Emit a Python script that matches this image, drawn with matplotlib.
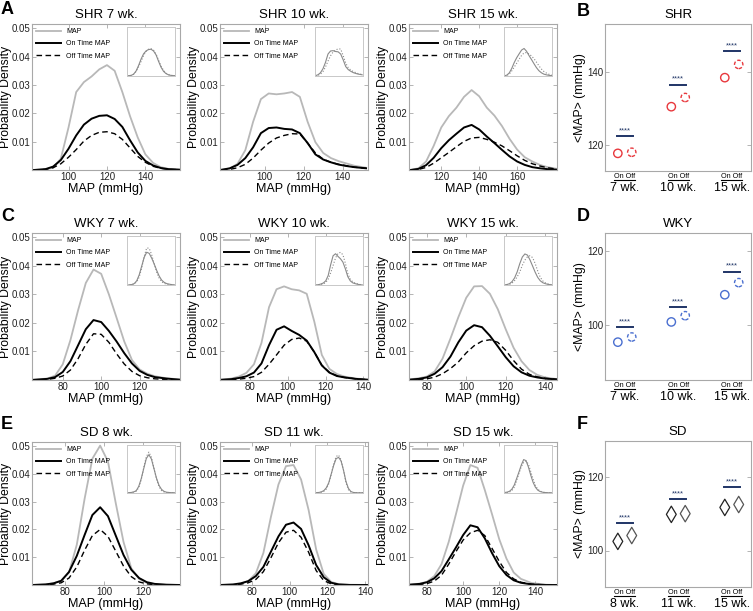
import matplotlib
matplotlib.use('Agg')
import matplotlib.pyplot as plt
import numpy as np
from matplotlib import transforms

plt.rcParams['font.family'] = ['Liberation Sans', 'DejaVu Sans']

# --- density curves (MAP in mmHg, probability density) ---
# SHR 7 wk.
shr7_x = [82, 88, 92, 96, 100, 104, 108, 112, 116, 120, 124, 128, 132, 136, 140, 144, 148, 152, 158]
shr7_map = [0, 0.0002, 0.0008, 0.004, 0.015, 0.0275, 0.031, 0.033, 0.0355, 0.037, 0.035, 0.0275,
            0.019, 0.0115, 0.0055, 0.0025, 0.001, 0.0004, 0.0001]
shr7_on = [0, 0.0003, 0.0012, 0.0035, 0.0075, 0.0122, 0.016, 0.0181, 0.0191, 0.0193, 0.018, 0.0152,
           0.0105, 0.0062, 0.0032, 0.0016, 0.0007, 0.0003, 0.0001]
shr7_off = [0, 0.0002, 0.0008, 0.0022, 0.0045, 0.0072, 0.0102, 0.0122, 0.0133, 0.0135, 0.0128, 0.0108,
            0.0078, 0.0048, 0.0027, 0.0013, 0.0006, 0.0002, 0.0001]

# SHR 10 wk.
shr10_x = [78, 82, 86, 90, 94, 98, 102, 106, 110, 114, 118, 122, 126, 130, 134, 138, 142, 146, 152]
shr10_map = [0.0001, 0.0005, 0.0022, 0.007, 0.017, 0.025, 0.027, 0.0267, 0.027, 0.0275, 0.0258, 0.017,
             0.0098, 0.006, 0.0042, 0.0031, 0.0023, 0.0015, 0.0008]
shr10_on = [0.0001, 0.0006, 0.0018, 0.0042, 0.008, 0.013, 0.0148, 0.015, 0.0145, 0.0143, 0.013, 0.0095,
            0.0055, 0.0037, 0.0027, 0.0019, 0.0014, 0.001, 0.0006]
shr10_off = [0, 0.0002, 0.0008, 0.002, 0.0042, 0.007, 0.0095, 0.0113, 0.0122, 0.0128, 0.0127, 0.0095,
             0.006, 0.0038, 0.0027, 0.002, 0.0015, 0.001, 0.0006]

# SHR 15 wk.
shr15_x = [104, 108, 112, 116, 120, 124, 128, 132, 136, 140, 144, 148, 152, 156, 160, 164, 168, 172, 176, 181]
shr15_map = [0.0001, 0.0006, 0.003, 0.0085, 0.015, 0.019, 0.022, 0.0258, 0.0282, 0.026, 0.022, 0.0192,
             0.0155, 0.011, 0.0072, 0.0045, 0.003, 0.0018, 0.001, 0.0004]
shr15_on = [0, 0.0004, 0.0017, 0.0043, 0.0077, 0.0105, 0.0128, 0.015, 0.0159, 0.0143, 0.0118, 0.0095,
            0.0071, 0.0048, 0.003, 0.0018, 0.001, 0.0006, 0.0003, 0.0001]
shr15_off = [0, 0.0002, 0.0009, 0.0024, 0.0043, 0.0062, 0.0082, 0.0101, 0.0113, 0.0115, 0.0108, 0.0098,
             0.0085, 0.0068, 0.005, 0.0034, 0.0022, 0.0014, 0.0008, 0.0003]

# WKY 7 wk.
wky7_x = [64, 68, 72, 76, 80, 84, 88, 92, 96, 100, 104, 108, 112, 116, 120, 124, 128, 134, 141]
wky7_map = [0.0001, 0.0003, 0.0005, 0.0015, 0.0055, 0.014, 0.0245, 0.034, 0.0387, 0.0372, 0.03, 0.0218,
            0.0135, 0.007, 0.0037, 0.0022, 0.0013, 0.0006, 0.0002]
wky7_on = [0, 0.0002, 0.0004, 0.001, 0.0028, 0.0066, 0.0122, 0.0178, 0.021, 0.0203, 0.0172, 0.0135,
           0.0094, 0.0058, 0.0032, 0.0018, 0.001, 0.0005, 0.0001]
wky7_off = [0, 0.0001, 0.0002, 0.0006, 0.0014, 0.0035, 0.0075, 0.0125, 0.0162, 0.016, 0.0132, 0.0092,
            0.0056, 0.003, 0.0015, 0.0008, 0.0004, 0.0002, 0]

# WKY 10 wk.
wky10_x = [65, 70, 74, 78, 82, 86, 90, 94, 98, 102, 106, 110, 114, 118, 122, 126, 130, 136, 142]
wky10_map = [0.0001, 0.0005, 0.0012, 0.0025, 0.0055, 0.013, 0.0255, 0.0318, 0.0328, 0.0318, 0.0314, 0.0302,
             0.0205, 0.0088, 0.0039, 0.0021, 0.0012, 0.0005, 0.0002]
wky10_on = [0.0001, 0.0003, 0.0007, 0.0013, 0.0026, 0.0058, 0.0122, 0.0176, 0.0188, 0.0172, 0.0158, 0.0138,
            0.0098, 0.0051, 0.0026, 0.0014, 0.0009, 0.0004, 0.0001]
wky10_off = [0, 0.0001, 0.0003, 0.0006, 0.0012, 0.0027, 0.0055, 0.0088, 0.0122, 0.0142, 0.0147, 0.0136,
             0.0098, 0.0052, 0.0027, 0.0015, 0.0009, 0.0004, 0.0001]

# WKY 15 wk.
wky15_x = [71, 76, 80, 84, 88, 92, 96, 100, 104, 108, 112, 116, 120, 124, 128, 132, 136, 140, 146]
wky15_map = [0.0002, 0.0006, 0.0012, 0.003, 0.0075, 0.0145, 0.022, 0.0288, 0.0328, 0.0329, 0.0302, 0.0248,
             0.0178, 0.0113, 0.0066, 0.0035, 0.0018, 0.0009, 0.0003]
wky15_on = [0.0001, 0.0004, 0.0009, 0.0022, 0.0045, 0.0082, 0.0132, 0.0173, 0.0192, 0.0185, 0.0155, 0.0118,
            0.008, 0.0048, 0.0027, 0.0015, 0.0009, 0.0005, 0.0002]
wky15_off = [0, 0.0002, 0.0004, 0.001, 0.0022, 0.004, 0.0063, 0.0095, 0.012, 0.0136, 0.0141, 0.0132,
             0.0104, 0.0068, 0.0038, 0.002, 0.0011, 0.0006, 0.0002]

# SD 8 wk.
sd8_x = [63, 70, 74, 78, 82, 86, 90, 94, 98, 102, 106, 110, 114, 118, 122, 126, 132, 139]
sd8_map = [0, 0.0002, 0.0006, 0.0016, 0.0045, 0.0145, 0.031, 0.0455, 0.0502, 0.0445, 0.0295, 0.0155,
           0.006, 0.0022, 0.0008, 0.0003, 0.0001, 0]
sd8_on = [0, 0.0002, 0.0006, 0.0015, 0.0047, 0.0105, 0.018, 0.0252, 0.028, 0.0248, 0.0178, 0.0108,
          0.0055, 0.0025, 0.001, 0.0004, 0.0001, 0]
sd8_off = [0, 0.0001, 0.0003, 0.0008, 0.0025, 0.0065, 0.0125, 0.0178, 0.02, 0.0175, 0.0122, 0.0068,
           0.003, 0.0011, 0.0004, 0.0001, 0, 0]

# SD 11 wk.
sd11_x = [63, 70, 74, 78, 82, 86, 90, 94, 98, 102, 106, 110, 114, 118, 122, 126, 132, 142]
sd11_map = [0, 0.0001, 0.0004, 0.0014, 0.0042, 0.0115, 0.0245, 0.0362, 0.0428, 0.0432, 0.038, 0.027,
            0.0128, 0.004, 0.0011, 0.0003, 0.0001, 0]
sd11_on = [0, 0.0002, 0.0006, 0.0014, 0.0032, 0.0065, 0.012, 0.0175, 0.0217, 0.0225, 0.0202, 0.0143,
           0.0072, 0.0028, 0.0008, 0.0002, 0, 0]
sd11_off = [0, 0.0001, 0.0003, 0.0008, 0.002, 0.0048, 0.0098, 0.0152, 0.019, 0.0197, 0.0172, 0.0118,
            0.0052, 0.0016, 0.0004, 0.0001, 0, 0]

# SD 15 wk.
sd15_x = [70, 76, 80, 84, 88, 92, 96, 100, 104, 108, 112, 116, 120, 124, 128, 132, 138, 146, 152]
sd15_map = [0.0001, 0.0005, 0.0012, 0.0032, 0.0075, 0.0155, 0.0255, 0.0358, 0.0432, 0.0422, 0.0342, 0.0255,
            0.0165, 0.0095, 0.0045, 0.0022, 0.0007, 0.0001, 0]
sd15_on = [0.0001, 0.0004, 0.001, 0.0024, 0.005, 0.0092, 0.0135, 0.018, 0.0215, 0.0208, 0.0168, 0.0115,
           0.0068, 0.0036, 0.0017, 0.0008, 0.0002, 0, 0]
sd15_off = [0, 0.0002, 0.0005, 0.0014, 0.0035, 0.0075, 0.012, 0.0162, 0.0188, 0.0197, 0.0178, 0.0132,
            0.0085, 0.0045, 0.0022, 0.001, 0.0003, 0, 0]

# --- mean MAP (On / Off) per age ---
shr_weeks = ['7 wk.', '10 wk.', '15 wk.']
shr_on = [117.8, 130.5, 138.4]
shr_off = [118.1, 133.0, 142.0]
shr_sig = [122.4, 136.5, 145.7]

wky_weeks = ['7 wk.', '10 wk.', '15 wk.']
wky_on = [95.3, 100.8, 108.2]
wky_off = [96.7, 102.5, 111.5]
wky_sig = [99.5, 104.9, 114.5]

sd_weeks = ['8 wk.', '11 wk.', '15 wk.']
sd_on = [102.5, 109.9, 111.8]
sd_off = [104.1, 110.1, 112.6]
sd_sig = [107.4, 114.2, 117.3]

W, H = 753, 611
fig = plt.figure(figsize=(W / 100, H / 100), dpi=100)

BOX = '#a8a8a8'


def px_axes(left, top, right, bottom):
    return fig.add_axes([left / W, 1 - bottom / H, (right - left) / W, (bottom - top) / H])


def box_style(ax):
    for s in ax.spines.values():
        s.set_color(BOX)
        s.set_linewidth(0.8)
    ax.tick_params(direction='in', length=3, width=0.6, color=BOX, labelsize=7,
                   labelcolor='#222222', pad=1.2, top=True, right=True)


def density_panel(ax, x, y_map, y_on, y_off, xlim, xticks, title):
    x = np.asarray(x, dtype=float)
    y_on = np.asarray(y_on, dtype=float)
    y_off = np.asarray(y_off, dtype=float)
    ax.plot(x, y_map, color='#b8b8b8', lw=1.3, label='MAP', solid_joinstyle='round')
    ax.plot(x, y_on, color='black', lw=1.4, label='On Time MAP', solid_joinstyle='round')
    ax.plot(x, y_off, color='black', lw=1.0, ls=(0, (4, 2.5)), label='Off Time MAP')
    ax.set_xlim(xlim)
    ax.set_ylim(0, 0.0515)
    ax.set_xticks(xticks)
    ax.set_yticks([0.01, 0.02, 0.03, 0.04, 0.05])
    ax.set_yticklabels(['0.01', '0.02', '0.03', '0.04', '0.05'])
    box_style(ax)
    ax.set_title(title, fontsize=9.5, pad=4)
    ax.set_xlabel('MAP (mmHg)', fontsize=9, labelpad=1)
    ax.set_ylabel('Probability Density', fontsize=8.8, labelpad=-0.5)
    ax.legend(loc='upper left', frameon=False, fontsize=5, handlelength=3.6,
              handletextpad=0.7, labelspacing=0.75, borderaxespad=0.35, borderpad=0.25)

    # inset: on / off distributions each normalised to unit area
    ins = ax.inset_axes([0.64, 0.645, 0.325, 0.335])
    ins.plot(x, y_on / np.trapezoid(y_on, x), color='#8a8a8a', lw=0.8)
    ins.plot(x, y_off / np.trapezoid(y_off, x), color='#8a8a8a', lw=0.8, ls=':')
    ins.set_xlim(xlim)
    ins.set_ylim(0, 0.058)
    ins.set_xticks([])
    ins.set_yticks([])
    for s in ins.spines.values():
        s.set_color('#c8c8c8')
        s.set_linewidth(0.7)


def mean_panel(ax, on, off, sig, weeks, ylim, yticks, title, color, marker):
    pos = np.arange(1, len(on) + 1)
    d = 0.13
    if marker == 'o':
        ax.scatter(pos - d, on, s=36, marker='o', facecolors='none', edgecolors=color, linewidths=1.0)
        ax.scatter(pos + d, off, s=36, marker='o', facecolors='none', edgecolors=color, linewidths=1.0,
                   linestyles=(0, (2.5, 1.5)))
    else:
        ax.scatter(pos - d, on, s=70, marker='d', facecolors='none', edgecolors='#222222', linewidths=0.9)
        ax.scatter(pos + d, off, s=70, marker='d', facecolors='none', edgecolors='#555555', linewidths=0.9)
    for p, s in zip(pos, sig):
        ax.plot([p - d - 0.02, p + d + 0.02], [s, s], color='#1f3466', lw=1.4)
        ax.text(p, s + (ylim[1] - ylim[0]) * 0.012, '****', ha='center', va='bottom',
                fontsize=5.5, color='#1f3466')
    ax.set_xlim(0.63, 3.36)
    ax.set_ylim(ylim)
    ax.set_xticks([])
    ax.set_yticks(yticks)
    box_style(ax)
    ax.set_title(title, fontsize=9.5, pad=4)
    ax.set_ylabel('<MAP> (mmHg)', fontsize=8.8, labelpad=1)
    tr = transforms.blended_transform_factory(ax.transData, ax.transAxes)
    for p, w in zip(pos, weeks):
        ax.annotate('On Off', xy=(p, 0), xycoords=tr, xytext=(0, -4), textcoords='offset points',
                    ha='center', va='center', fontsize=5.2)
        ax.annotate(w, xy=(p, 0), xycoords=tr, xytext=(0, -12.5), textcoords='offset points',
                    ha='center', va='center', fontsize=9)
        ax.plot([p - 0.2, p + 0.2], [-0.06, -0.06], transform=tr, color='black', lw=0.8,
                clip_on=False)


cols = [(32, 180), (220, 368), (409, 557)]
rows = [(24, 170), (233, 380), (442, 585)]

density = [
    [(shr7_x, shr7_map, shr7_on, shr7_off, (81, 158), [100, 120, 140], 'SHR 7 wk.'),
     (shr10_x, shr10_map, shr10_on, shr10_off, (77, 153), [100, 120, 140], 'SHR 10 wk.'),
     (shr15_x, shr15_map, shr15_on, shr15_off, (103, 181), [120, 140, 160], 'SHR 15 wk.')],
    [(wky7_x, wky7_map, wky7_on, wky7_off, (64, 141), [80, 100, 120], 'WKY 7 wk.'),
     (wky10_x, wky10_map, wky10_on, wky10_off, (64, 142.5), [80, 100, 120, 140], 'WKY 10 wk.'),
     (wky15_x, wky15_map, wky15_on, wky15_off, (71, 146), [80, 100, 120, 140], 'WKY 15 wk.')],
    [(sd8_x, sd8_map, sd8_on, sd8_off, (63, 139), [80, 100, 120], 'SD 8 wk.'),
     (sd11_x, sd11_map, sd11_on, sd11_off, (63, 141.5), [80, 100, 120, 140], 'SD 11 wk.'),
     (sd15_x, sd15_map, sd15_on, sd15_off, (70, 152), [80, 100, 120, 140], 'SD 15 wk.')],
]

for (top, bottom), row in zip(rows, density):
    for (left, right), args in zip(cols, row):
        density_panel(px_axes(left, top, right, bottom), *args)

axB = px_axes(605, 24, 751, 171)
mean_panel(axB, shr_on, shr_off, shr_sig, shr_weeks, (113, 153), [120, 140], 'SHR', '#e8383d', 'o')
axD = px_axes(605, 233, 751, 380)
mean_panel(axD, wky_on, wky_off, wky_sig, wky_weeks, (85, 125), [100, 120], 'WKY', '#4a6fd0', 'o')
axF = px_axes(605, 441, 751, 587)
mean_panel(axF, sd_on, sd_off, sd_sig, sd_weeks, (90, 130), [100, 120], 'SD', 'black', 'd')

for letter, (x, y) in zip('ABCDEF', [(1, 1), (577, 3), (1, 208), (577, 208), (1, 416), (577, 416)]):
    fig.text(x / W, 1 - y / H, letter, fontsize=13, fontweight='bold', ha='left', va='top')

fig.savefig('out.png', dpi=100)
